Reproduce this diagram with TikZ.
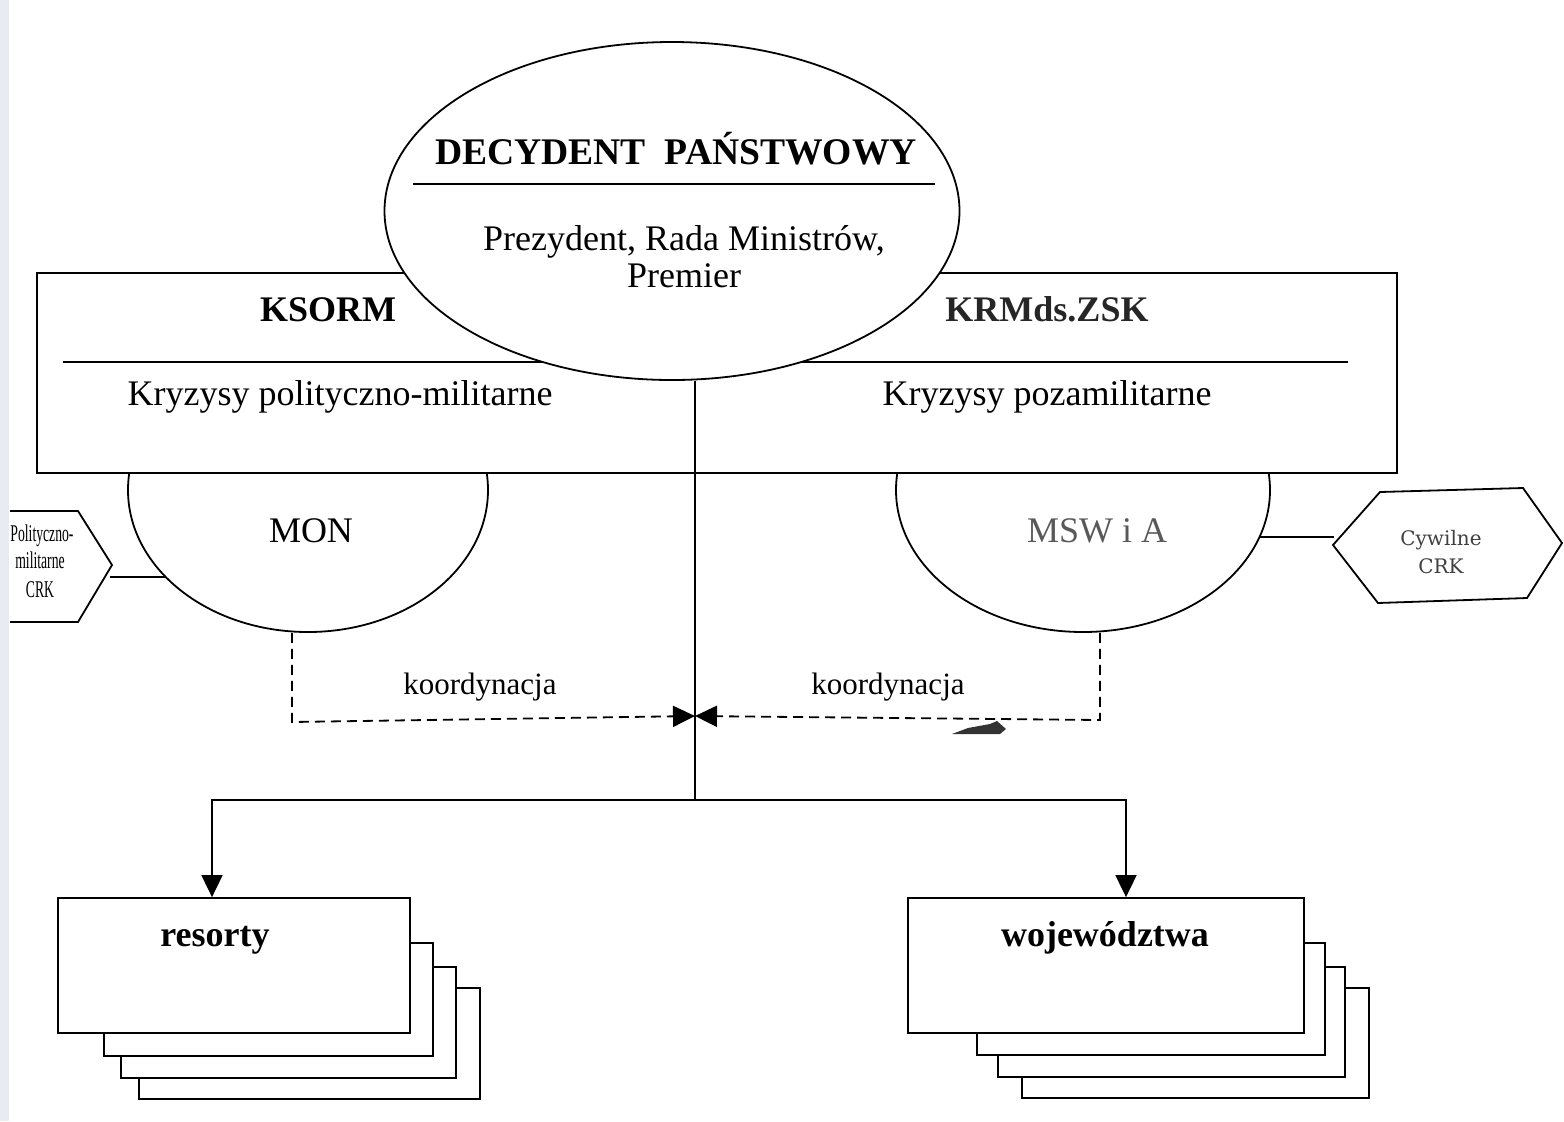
\documentclass[tikz,border=0pt]{standalone}
\usepackage{fontspec}
\setmainfont{Liberation Serif}
\newfontfamily\crkfont{DejaVu Serif}
\usetikzlibrary{shapes.geometric,arrows.meta,calc}
\definecolor{scanedge}{RGB}{232,235,241}

\begin{document}
\begin{tikzpicture}[x=0.5pt,y=-0.5pt,
  line width=0.9pt,
  txt/.style={inner sep=0,anchor=base},
  big/.style={txt,font=\fontsize{18.8}{20}\selectfont\bfseries},
  head/.style={txt,font=\fontsize{18}{20}\selectfont\bfseries},
  reg/.style={txt,font=\fontsize{18}{20}\selectfont},
  small/.style={txt,font=\fontsize{15.5}{17}\selectfont},
  crk/.style={txt,font=\fontsize{10}{12}\selectfont\crkfont,text=black!75},
  sheet/.style={draw,fill=white,rectangle,inner sep=0},
  oval/.style={draw,fill=white,ellipse,inner sep=0},
  tip/.style={-{Triangle[length=11pt,width=10.5pt]}},
  coord/.style={dash pattern=on 5pt off 3pt,tip}]
\useasboundingbox (0,0) rectangle (1564,1121);
\fill[white] (0,0) rectangle (1564,1121);
\fill[scanedge] (0,0) rectangle (9,1121);

% stacked sheets: resorty
\node[sheet,minimum width=170.5pt,minimum height=55.5pt] (r3) at (309.5,1043.5) {};
\node[sheet,minimum width=167.5pt,minimum height=55.5pt] (r2) at (288.5,1022.5) {};
\node[sheet,minimum width=164.5pt,minimum height=56.5pt] (r1) at (268.5,999.5) {};
\node[sheet,minimum width=176pt,minimum height=67.5pt] (res) at (234,965.5) {};
\node[head] (restxt) at (215,946) {resorty};

% stacked sheets: wojewodztwa
\node[sheet,minimum width=173.5pt,minimum height=55pt] (w3) at (1195.5,1043) {};
\node[sheet,minimum width=173.5pt,minimum height=55pt] (w2) at (1171.5,1022) {};
\node[sheet,minimum width=174pt,minimum height=56pt] (w1) at (1151,999) {};
\node[sheet,minimum width=198pt,minimum height=67.5pt] (woj) at (1106,965.5) {};
\node[head] (wojtxt) at (1105,946) {województwa};

% ministries under the committee box
\node[oval,minimum width=180pt,minimum height=142pt] (MON) at (308,490) {};
\node[oval,minimum width=187pt,minimum height=142pt] (MSW) at (1083,490) {};

% committee box
\node[sheet,minimum width=680pt,minimum height=100pt] (box) at (717,373) {};
\draw (63,362) -- (1348,362);

% state decision maker
\node[oval,minimum width=287.5pt,minimum height=169pt] (dec) at (672,211) {};
\draw (413,184) -- (935,184);
\node[big] (dectxt) at (676,164) {DECYDENT\ \ PAŃSTWOWY};
\node[reg] (dec1) at (684,250) {Prezydent, Rada Ministrów,};
\node[reg] (dec2) at (684,287) {Premier};

% committee texts
\node[head] (ksorm) at (328,321) {KSORM};
\node[reg] (ksormtxt) at (340,405) {Kryzysy polityczno-militarne};
\node[head,text=black!85] (krm) at (1047,321) {KRMds.ZSK};
\node[reg] (krmtxt) at (1047,405) {Kryzysy pozamilitarne};
\node[reg] (montxt) at (311,542) {MON};
\node[reg,text=black!65] (mswtxt) at (1097,542) {MSW i A};

% central line and branches
\coordinate (hub) at (695,800);
\coordinate (meet) at (695,716);
\draw (dec.south -| hub) -- (hub);
\coordinate (al) at (212,800);
\coordinate (ar) at (1126,800);
\draw[tip] (hub) -| (res.north -| al);
\draw[tip] (hub) -| (woj.north -| ar);

% coordination links
\coordinate (kl) at (292,722);
\coordinate (kr) at (1100,720);
\draw[coord] (MON.south -| kl) -- (kl) -- (meet);
\draw[coord] (MSW.south -| kr) -- (kr) -- (meet);
\node[small] (k1) at (480,694) {koordynacja};
\node[small] (k2) at (888,694) {koordynacja};
\fill[black!80] (952,734) -- (968,728) -- (990,724) -- (997,721) -- (1006,729) -- (1000,734) -- cycle;

% crisis centres
\coordinate (hl) at (110,577);
\draw (10,511) -- (78,511) -- (112,565) -- (78,622) -- (10,622);
\draw (hl) -- (MON.212 |- hl);
\node[txt,font=\fontsize{12}{12}\selectfont] (p1) at (42,541) {\scalebox{0.57}[1]{Polityczno-}};
\node[txt,font=\fontsize{12}{12}\selectfont] (p2) at (40,568) {\scalebox{0.57}[1]{militarne}};
\node[txt,font=\fontsize{12}{12}\selectfont] (p3) at (40,597) {\scalebox{0.57}[1]{CRK}};

\coordinate (hr) at (1334,537);
\draw (1333,545) -- (1380,492) -- (1523,488) -- (1562,543) -- (1527,598) -- (1378,603) -- cycle;
\draw (MSW.345 |- hr) -- (hr);
\node[crk] (c1) at (1441,545) {Cywilne};
\node[crk] (c2) at (1441,573) {CRK};
\end{tikzpicture}
\end{document}
